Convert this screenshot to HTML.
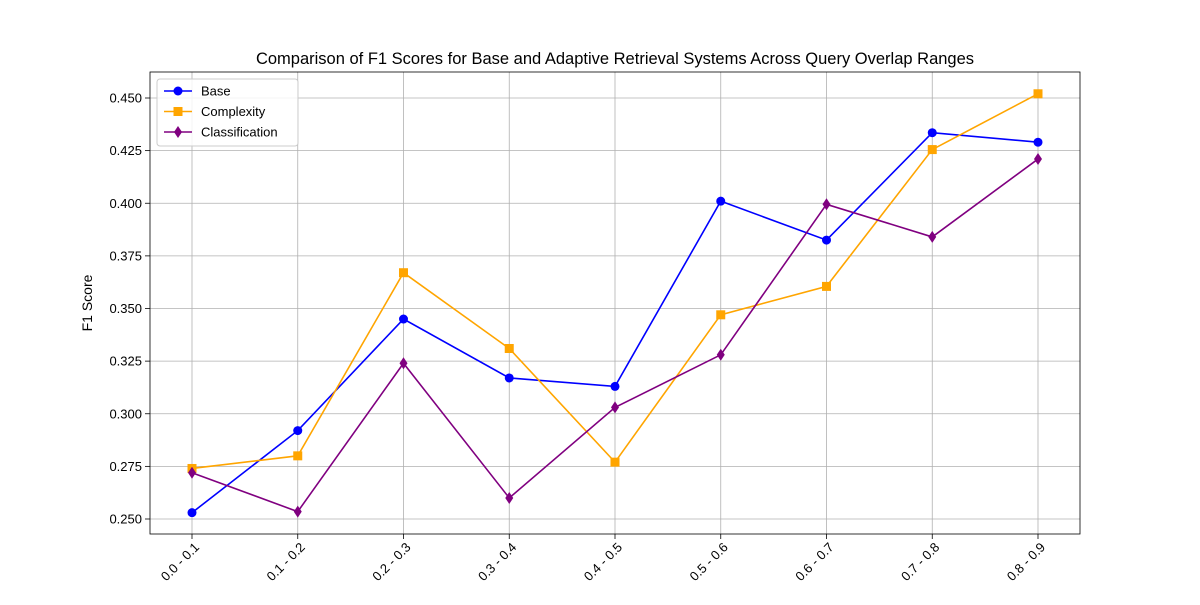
<!DOCTYPE html>
<html><head><meta charset="utf-8"><style>
body{margin:0;background:#fff;font-family:"Liberation Sans",sans-serif;}
svg text{font-family:"Liberation Sans",sans-serif;fill:#000;}
</style></head><body>
<svg id="chart" width="1200" height="600" xmlns="http://www.w3.org/2000/svg"></svg>
<script>
const categories = ["0.0 - 0.1","0.1 - 0.2","0.2 - 0.3","0.3 - 0.4","0.4 - 0.5","0.5 - 0.6","0.6 - 0.7","0.7 - 0.8","0.8 - 0.9"];
const baseValues = [0.253,0.292,0.345,0.317,0.313,0.401,0.3825,0.4335,0.429];
const complexityValues = [0.274,0.280,0.367,0.331,0.277,0.347,0.3605,0.4255,0.452];
const classificationValues = [0.272,0.2535,0.324,0.260,0.303,0.328,0.3995,0.384,0.421];
const yTicks = [0.250,0.275,0.300,0.325,0.350,0.375,0.400,0.425,0.450];

const svg = document.getElementById('chart');
const NS = 'http://www.w3.org/2000/svg';
const L=150,R=1080,T=72,B=534;
const x = i => 192 + i*(1038-192)/(categories.length-1);
const y = v => 519 - (v-0.25)/0.2*(519-98);
function mk(tag, attrs, parent){const e=document.createElementNS(NS,tag);for(const k in attrs)e.setAttribute(k,attrs[k]);(parent||svg).appendChild(e);return e;}

const grid = mk('g',{});


categories.forEach((c,i)=>{mk('line',{x1:x(i),x2:x(i),y1:T,y2:B,stroke:'#b0b0b0','stroke-width':0.8},grid);});
yTicks.forEach(v=>{mk('line',{x1:L,x2:R,y1:y(v),y2:y(v),stroke:'#b0b0b0','stroke-width':0.8},grid);});

const frame = mk('rect',{x:L,y:T,width:R-L,height:B-T,fill:'none',stroke:'#000','stroke-width':0.8});



categories.forEach((c,i)=>{
  mk('line',{x1:x(i),x2:x(i),y1:B,y2:B+5,stroke:'#000','stroke-width':0.8});
  const ax = x(i)+8, ay = B+14;
  const t = mk('text',{x:ax,y:ay,'font-size':13,'text-anchor':'end',transform:`rotate(-45 ${ax} ${ay})`});
  
  
  t.textContent=c;
});
yTicks.forEach(v=>{
  mk('line',{x1:L-5,x2:L,y1:y(v),y2:y(v),stroke:'#000','stroke-width':0.8});
  const t = mk('text',{x:L-8,y:y(v)+4.5,'font-size':13,'text-anchor':'end'});
  
  
  t.textContent=v.toFixed(3);
});
const yt = mk('text',{x:92,y:303,'font-size':14,'text-anchor':'middle',transform:'rotate(-90 92 303)'});


yt.textContent='F1 Score';
const title = mk('text',{x:615,y:64,'font-size':16.5,'text-anchor':'middle'});


title.textContent='Comparison of F1 Scores for Base and Adaptive Retrieval Systems Across Query Overlap Ranges';

function marker(cx,cy,shape,color,parent){
  if(shape==='o') return mk('circle',{cx,cy,r:4.5,fill:color},parent);
  if(shape==='s') return mk('rect',{x:cx-4.5,y:cy-4.5,width:9,height:9,fill:color},parent);
  return mk('polygon',{points:`${cx},${cy-6} ${cx+4},${cy} ${cx},${cy+6} ${cx-4},${cy}`,fill:color},parent);
}
const series=[['Base',baseValues,'#0000ff','o'],['Complexity',complexityValues,'#ffa500','s'],['Classification',classificationValues,'#800080','d']];
series.forEach(([name,vals,color,shape])=>{
  const g = mk('g',{});
  
  
  mk('polyline',{points:vals.map((v,i)=>x(i)+','+y(v)).join(' '),fill:'none',stroke:color,'stroke-width':1.6},g);
  vals.forEach((v,i)=>{
    const m = marker(x(i),y(v),shape,color,g);
    
    
  });
});

const lg = mk('g',{});


mk('rect',{x:157,y:79,width:141,height:67,rx:3,fill:'#fff','fill-opacity':0.85,stroke:'#ccc'},lg);
series.forEach(([name,vals,color,shape],k)=>{
  const yy = 91 + k*20.5;
  const e = mk('g',{},lg);
  
  
  mk('line',{x1:164,x2:192,y1:yy,y2:yy,stroke:color,'stroke-width':1.6},e);
  marker(178,yy,shape,color,e);
  const t = mk('text',{x:201,y:yy+4.5,'font-size':13},e);
  t.textContent=name;
});
</script>
</body></html>
